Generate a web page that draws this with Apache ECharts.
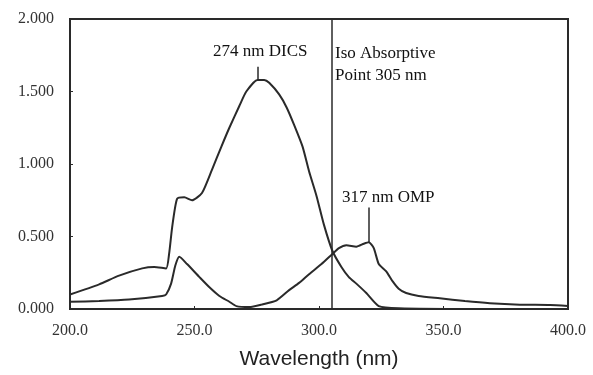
<!DOCTYPE html>
<html>
<head>
<meta charset="utf-8">
<script src="https://cdn.jsdelivr.net/npm/echarts@6/dist/echarts.min.js"></script>
<style>
  html, body { margin: 0; padding: 0; background: #fff; }
  #chart { width: 593px; height: 375px; }
</style>
</head>
<body>
<div id="chart"></div>
<script>
/** 光谱数据 (波长 nm / 吸光度) */
const DICS_WL = [200, 211.7, 219.7, 229, 233.8, 238.6, 239.8, 241, 243, 245.9, 249, 253, 257, 260.8, 264, 268, 270.8, 275.3, 278, 280, 284, 287, 290, 293.4, 296, 299, 302, 305.4, 309, 312, 315, 319, 324, 332, 360, 400]
const DICS_ABS = [0.10, 0.17, 0.23, 0.28, 0.29, 0.28, 0.38, 0.56, 0.76, 0.77, 0.75, 0.80, 0.96, 1.12, 1.25, 1.40, 1.50, 1.58, 1.58, 1.56, 1.48, 1.39, 1.27, 1.12, 0.95, 0.78, 0.58, 0.40, 0.29, 0.22, 0.175, 0.11, 0.02, 0.005, 0.0, 0.0]

const OMP_WL = [200, 211.7, 223.7, 237, 238.6, 240.6, 242.3, 243.9, 247, 252, 256, 260, 264, 266.8, 272, 276.9, 283, 288, 292, 296, 301, 305.4, 308, 311, 315, 318, 320, 322, 324, 327, 329.6, 332, 335, 340, 348.5, 358.6, 368.6, 380.7, 392.8, 400]
const OMP_ABS = [0.05, 0.055, 0.065, 0.09, 0.10, 0.175, 0.30, 0.36, 0.31, 0.22, 0.15, 0.09, 0.05, 0.02, 0.013, 0.03, 0.06, 0.13, 0.18, 0.24, 0.31, 0.38, 0.42, 0.44, 0.43, 0.45, 0.46, 0.42, 0.31, 0.26, 0.19, 0.14, 0.11, 0.09, 0.074, 0.055, 0.04, 0.03, 0.027, 0.02]

/** 等吸收点 */
const ISO_POINT = 305
/** 峰标记 [波长, 下端, 上端] */
const DICS_PEAK = [275.3, 1.58, 1.67]
const OMP_PEAK = [320, 0.46, 0.70]

const X_TICKS = [200, 400, 50]
const Y_TICKS = [0, 2, 0.5]

function zip(xs, ys) {
    return xs.map((x, i) => [x, ys[i]])
}

let lineColor = '#2a2a2a'
let serif = '"Liberation Serif", "DejaVu Serif", serif'

let chart = echarts.init(document.getElementById('chart'))

let option = {
    animation: false,
    backgroundColor: '#fff',
    grid: {
        left: 70, right: 25, top: 19, bottom: 59,
        show: true,
        borderColor: lineColor,
        borderWidth: 2
    },
    xAxis: {
        type: 'value',
        min: X_TICKS[0],
        max: X_TICKS[1],
        interval: X_TICKS[2],
        name: 'Wavelength (nm)',
        nameLocation: 'middle',
        nameGap: 40,
        nameTextStyle: { fontFamily: '"Liberation Sans", Arial, sans-serif', fontSize: 21, color: '#222' },
        axisLine: { lineStyle: { color: lineColor, width: 2 } },
        axisTick: { inside: true, length: 3, lineStyle: { color: lineColor } },
        splitLine: { show: false },
        axisLabel: {
            margin: 14,
            fontFamily: serif,
            fontSize: 16,
            color: '#333',
            formatter: v => v.toFixed(1)
        }
    },
    yAxis: {
        type: 'value',
        min: Y_TICKS[0],
        max: Y_TICKS[1],
        interval: Y_TICKS[2],
        axisLine: { show: true, lineStyle: { color: lineColor, width: 2 } },
        axisTick: { show: true, inside: true, length: 3, lineStyle: { color: lineColor } },
        splitLine: { show: false },
        axisLabel: {
            margin: 16,
            fontFamily: serif,
            fontSize: 16,
            color: '#333',
            formatter: v => v.toFixed(3)
        }
    },
    series: [
        {
            name: 'DICS',
            type: 'line',
            data: zip(DICS_WL, DICS_ABS),
            smooth: 0.2,
            showSymbol: false,
            lineStyle: { color: lineColor, width: 2 },
            markLine: {
                silent: true,
                symbol: 'none',
                label: { show: false },
                lineStyle: { color: lineColor, width: 1.5, type: 'solid' },
                data: [
                    [{ coord: [ISO_POINT, Y_TICKS[0]] }, { coord: [ISO_POINT, Y_TICKS[1]] }],
                    [{ coord: [DICS_PEAK[0], DICS_PEAK[1]] }, { coord: [DICS_PEAK[0], DICS_PEAK[2]] }]
                ]
            }
        },
        {
            name: 'OMP',
            type: 'line',
            data: zip(OMP_WL, OMP_ABS),
            smooth: 0.2,
            showSymbol: false,
            lineStyle: { color: lineColor, width: 2 },
            markLine: {
                silent: true,
                symbol: 'none',
                label: { show: false },
                lineStyle: { color: lineColor, width: 1.5, type: 'solid' },
                data: [
                    [{ coord: [OMP_PEAK[0], OMP_PEAK[1]] }, { coord: [OMP_PEAK[0], OMP_PEAK[2]] }]
                ]
            }
        }
    ],
    graphic: [
        {
            type: 'text', left: 213, top: 43,
            style: { text: '274 nm DICS', font: '17px ' + serif, fill: '#111' }
        },
        {
            type: 'text', left: 335, top: 43,
            style: { text: 'Iso Absorptive\nPoint 305 nm', font: '17px ' + serif, fill: '#111', lineHeight: 22 }
        },
        {
            type: 'text', left: 342, top: 189,
            style: { text: '317 nm OMP', font: '17px ' + serif, fill: '#111' }
        }
    ]
}

chart.setOption(option)
</script>
</body>
</html>
